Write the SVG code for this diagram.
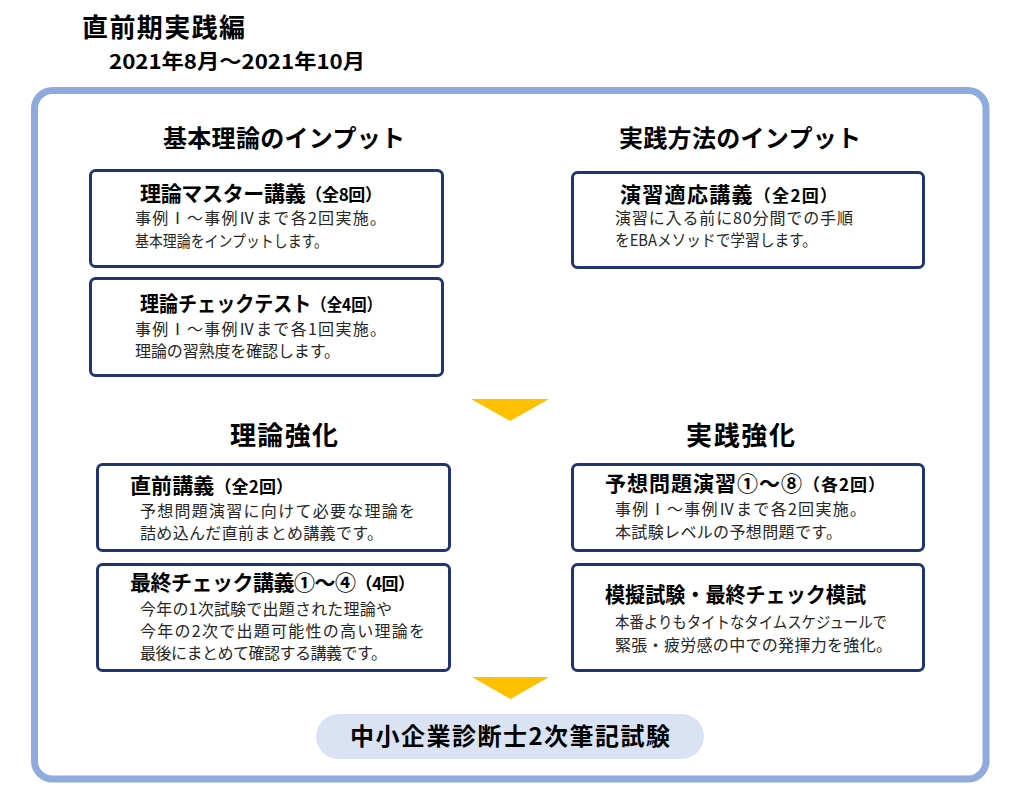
<svg xmlns="http://www.w3.org/2000/svg" width="1024" height="804" viewBox="0 0 1024 804">
<style>
text{font-family:"Noto Sans CJK JP","Noto Sans",sans-serif;}
.h1{font-size:26px;font-weight:bold;fill:#000;}
.h2{font-size:20px;font-weight:bold;fill:#000;}
.sec{font-size:24px;font-weight:bold;fill:#000;}
.sec2{font-size:26px;font-weight:bold;fill:#000;}
.box{fill:#fff;stroke:#1F3470;stroke-width:3;}
.tt{font-size:21px;font-weight:bold;fill:#000;}
.ts{font-size:17px;}
.bd{font-size:16px;fill:#262626;}
.arr{fill:#FFC000;}
.frame{fill:none;stroke:#8FAADC;stroke-width:7;}
.pill{fill:#DAE3F3;}
.pt{font-size:24px;font-weight:bold;fill:#000;}
</style>
<rect width="1024" height="804" fill="#fff"/>
<g id="header">
<text class="h1" x="82" y="37" textLength="163" lengthAdjust="spacing">直前期実践編</text>
<text class="h2" x="109" y="69" textLength="256" lengthAdjust="spacingAndGlyphs">2021年8月～2021年10月</text>
</g>
<rect class="frame" x="34.5" y="90.5" width="951.5" height="688.5" rx="18"/>
<g id="sections">
<text class="sec" x="163" y="147" textLength="242" lengthAdjust="spacing">基本理論のインプット</text>
<text class="sec" x="619" y="147" textLength="242" lengthAdjust="spacing">実践方法のインプット</text>
<text class="sec2" x="230" y="445" textLength="108" lengthAdjust="spacing">理論強化</text>
<text class="sec2" x="686" y="445" textLength="109" lengthAdjust="spacing">実践強化</text>
</g>
<g id="node-master">
<rect class="box" x="90.5" y="170.5" width="352" height="96" rx="5"/>
<text class="tt" x="140" y="201" textLength="242" lengthAdjust="spacing">理論マスター講義<tspan class="ts">（全8回）</tspan></text>
<text class="bd" x="135" y="224" textLength="251" lengthAdjust="spacing">事例Ⅰ～事例Ⅳまで各2回実施。</text>
<text class="bd" x="135" y="247" textLength="193" lengthAdjust="spacingAndGlyphs">基本理論をインプットします。</text>
</g>
<g id="node-check">
<rect class="box" x="90.5" y="278.5" width="352" height="97" rx="5"/>
<text class="tt" x="140" y="311" textLength="242" lengthAdjust="spacingAndGlyphs">理論チェックテスト<tspan class="ts">（全4回）</tspan></text>
<text class="bd" x="135" y="335" textLength="251" lengthAdjust="spacing">事例Ⅰ～事例Ⅳまで各1回実施。</text>
<text class="bd" x="135" y="357" textLength="205" lengthAdjust="spacing">理論の習熟度を確認します。</text>
</g>
<g id="node-enshu">
<rect class="box" x="572.5" y="172.5" width="351" height="95" rx="5"/>
<text class="tt" x="620" y="202" textLength="217" lengthAdjust="spacing">演習適応講義<tspan class="ts">（全2回）</tspan></text>
<text class="bd" x="615" y="224" textLength="238" lengthAdjust="spacing">演習に入る前に80分間での手順</text>
<text class="bd" x="615" y="246" textLength="202" lengthAdjust="spacingAndGlyphs">をEBAメソッドで学習します。</text>
</g>
<g id="node-chokuzen">
<rect class="box" x="97.5" y="464.5" width="352" height="86" rx="5"/>
<text class="tt" x="130" y="493" textLength="163" lengthAdjust="spacing">直前講義<tspan class="ts">（全2回）</tspan></text>
<text class="bd" x="140" y="517" textLength="275" lengthAdjust="spacing">予想問題演習に向けて必要な理論を</text>
<text class="bd" x="140" y="539" textLength="243" lengthAdjust="spacing">詰め込んだ直前まとめ講義です。</text>
</g>
<g id="node-final">
<rect class="box" x="97.5" y="564.5" width="352" height="106" rx="5"/>
<text class="tt" x="130" y="590" textLength="285" lengthAdjust="spacing">最終チェック講義①～④<tspan class="ts">（4回）</tspan></text>
<text class="bd" x="140" y="615" textLength="252" lengthAdjust="spacing">今年の1次試験で出題された理論や</text>
<text class="bd" x="140" y="637" textLength="285" lengthAdjust="spacing">今年の2次で出題可能性の高い理論を</text>
<text class="bd" x="140" y="659" textLength="247" lengthAdjust="spacing">最後にまとめて確認する講義です。</text>
</g>
<g id="node-yoso">
<rect class="box" x="572.5" y="464.5" width="351" height="86" rx="5"/>
<text class="tt" x="605" y="491" textLength="280" lengthAdjust="spacing">予想問題演習①～⑧<tspan class="ts">（各2回）</tspan></text>
<text class="bd" x="615" y="515" textLength="251" lengthAdjust="spacing">事例Ⅰ～事例Ⅳまで各2回実施。</text>
<text class="bd" x="615" y="538" textLength="227" lengthAdjust="spacing">本試験レベルの予想問題です。</text>
</g>
<g id="node-mogi">
<rect class="box" x="572.5" y="564.5" width="351" height="106" rx="5"/>
<text class="tt" x="605" y="602" textLength="261" lengthAdjust="spacingAndGlyphs">模擬試験・最終チェック模試</text>
<text class="bd" x="615" y="628" textLength="272" lengthAdjust="spacingAndGlyphs">本番よりもタイトなタイムスケジュールで</text>
<text class="bd" x="615" y="651" textLength="277" lengthAdjust="spacing">緊張・疲労感の中での発揮力を強化。</text>
</g>
<g id="node-exam">
<rect class="pill" x="316" y="714" width="388" height="45" rx="22.5"/>
<text class="pt" x="350" y="745" textLength="320" lengthAdjust="spacing">中小企業診断士2次筆記試験</text>
</g>
<g id="connectors">
<polygon class="arr" points="471,399 549,399 510,421"/>
<polygon class="arr" points="472,677 549,677 510.5,699"/>
</g>
</svg>
